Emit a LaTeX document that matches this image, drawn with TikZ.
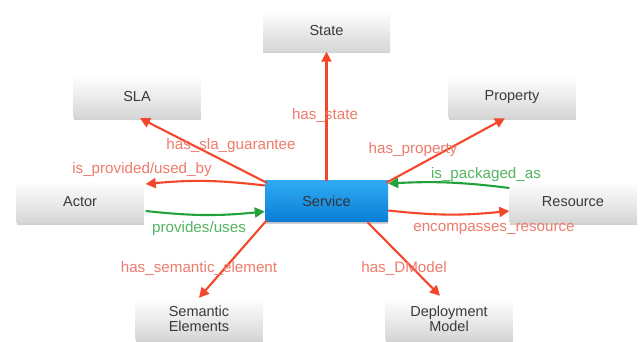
\documentclass[tikz,border=0pt]{standalone}
\usepackage{fontspec}
\setmainfont{Liberation Sans}
\usetikzlibrary{shadows,arrows.meta,fadings}
\definecolor{arrred}{HTML}{F4462A}
\definecolor{lblred}{HTML}{EE7C6C}
\definecolor{arrgreen}{HTML}{22A23A}
\definecolor{lblgreen}{HTML}{55B464}
\definecolor{boxtext}{HTML}{3A3A3A}
\definecolor{svctop}{HTML}{2FAAF2}
\definecolor{svcbot}{HTML}{0A7ED6}
\tikzset{
  box/.style={minimum width=127pt, minimum height=42pt, inner sep=0pt,
    top color=white, bottom color=black!16, draw=none,
    text=boxtext, align=center,
    font=\fontsize{14.5}{15.5}\selectfont,
    drop shadow={opacity=0.35, shadow xshift=0pt, shadow yshift=-2pt}},
  svc/.style={box, minimum width=123pt, minimum height=41pt,
    top color=svctop, bottom color=svcbot, text=black!80, drop shadow={opacity=0.2, shadow xshift=0pt, shadow yshift=-1.5pt}},
  redarr/.style={draw=arrred, line width=2.1pt, -{Triangle[length=10pt,width=10pt]}},
  greenarr/.style={draw=arrgreen, line width=2.1pt, -{Triangle[length=10pt,width=10pt]}},
  redlbl/.style={text=lblred, font=\fontsize{15.2}{16}\selectfont, inner sep=0pt},
  greenlbl/.style={text=lblgreen, font=\fontsize{15.2}{16}\selectfont, inner sep=0pt},
}
\begin{document}
\begin{tikzpicture}[x=1pt,y=1pt]
\useasboundingbox[fill=white] (0,0) rectangle (641,342);
\node[box] (state) at (326.5,311.5) {State};
\node[box] (sla) at (137,245) {SLA};
\node[box] (prop) at (512,245) {Property};
\node[box] (actor) at (80,140) {Actor};
\node[box] (res) at (573,140) {Resource};
\node[box] (sem) at (199,23) {Semantic\\Elements};
\node[box] (dep) at (449,23) {Deployment\\Model};
\node[svc] (svc) at (326.5,140.5) {Service};

\draw[redarr] (svc.north) -- (state.south);
\draw[redarr] ([xshift=2pt,yshift=-2pt]svc.north west) -- ([xshift=3pt]sla.south);
\draw[redarr] ([xshift=-2pt,yshift=-2pt]svc.north east) -- ([xshift=-7pt]prop.south);
\draw[redarr] ([xshift=2pt,yshift=2pt]svc.south west) -- (sem.north);
\draw[redarr] ([xshift=41pt]svc.south) -- ([xshift=-9pt,yshift=2pt]dep.north);
\draw[redarr] ([yshift=16pt]svc.west) to[bend right=6] ([xshift=2pt,yshift=18pt]actor.east);
\draw[greenarr] ([xshift=2pt,yshift=-9pt]actor.east) to[bend right=6] ([yshift=-10pt]svc.west);
\draw[greenarr] ([yshift=14pt]res.west) to[bend right=5] ([yshift=18pt]svc.east);
\draw[redarr] ([yshift=-9pt]svc.east) to[bend right=6] ([yshift=-9pt]res.west);

\node[redlbl] (l1) at (325,226) {has\_state};
\node[redlbl] (l2) at (231,196) {has\_sla\_guarantee};
\node[redlbl] (l3) at (413,192) {has\_property};
\node[redlbl] (l4) at (142,172) {is\_provided/used\_by};
\node[greenlbl] (l5) at (199,113) {provides/uses};
\node[greenlbl] (l6) at (486,167) {is\_packaged\_as};
\node[redlbl] (l7) at (494,113) {encompasses\_resource};
\node[redlbl] (l8) at (199,73) {has\_semantic\_element};
\node[redlbl] (l9) at (404,73) {has\_DModel};
\end{tikzpicture}
\end{document}
